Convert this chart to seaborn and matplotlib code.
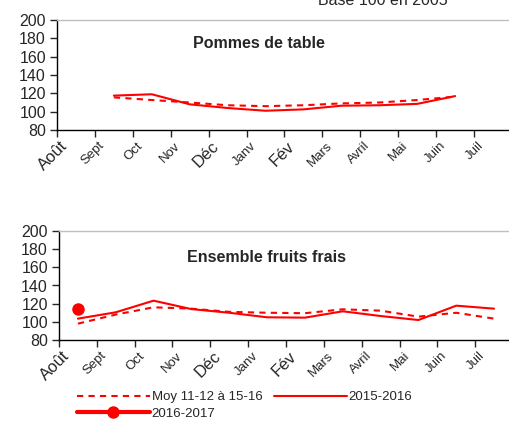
import matplotlib
matplotlib.use('Agg')
import matplotlib.pyplot as plt
import matplotlib.transforms as mtransforms
import numpy as np
import pandas as pd
import seaborn as sns

mois = ['Août', 'Sept', 'Oct', 'Nov', 'Déc', 'Janv', 'Fév', 'Mars', 'Avril', 'Mai', 'Juin', 'Juil']
nan = np.nan

# Pommes de table
pommes_moy = [nan, 115.6, 112.7, 110, 107, 106, 107, 109, 110, 112.7, 116.4, nan]
pommes_1516 = [nan, 117.5, 119, 108, 104, 101, 102.5, 106.5, 107, 108.5, 117, nan]

# Ensemble fruits frais
fruits_moy = [98, 108, 116, 114.5, 111, 110, 109.5, 113.8, 112.3, 105.7, 110, 103.5]
fruits_1516 = [103.5, 110.5, 123.3, 114, 110, 105, 104.6, 111.6, 106.4, 102, 117.8, 114.5]
fruits_1617 = [114, nan, nan, nan, nan, nan, nan, nan, nan, nan, nan, nan]

lab_moy = 'Moy 11-12 à 15-16'
lab_1516 = '2015-2016'
lab_1617 = '2016-2017'

sns.set_style('ticks')
plt.rcParams['font.family'] = ['Liberation Sans', 'DejaVu Sans']

RED = '#ff0000'
W, H = 509, 422
fig = plt.figure(figsize=(W / 100, H / 100), dpi=100)

ax1 = fig.add_axes([57 / W, 1 - 130 / H, 455 / W, 110 / H])
ax2 = fig.add_axes([59 / W, 1 - 340 / H, 454 / W, 109 / H])

x = np.arange(len(mois))


def draw(ax, series):
    for vals, lab, ls, lw, mk in series:
        df = pd.DataFrame({'x': x, 'y': vals}).dropna()
        sns.lineplot(data=df, x='x', y='y', ax=ax, color=RED, linestyle=ls,
                     linewidth=lw, marker=mk, markersize=9, markeredgewidth=0,
                     label=lab)


draw(ax1, [(pommes_moy, lab_moy, (0, (3, 2.5)), 1.5, None),
           (pommes_1516, lab_1516, '-', 1.5, None)])
draw(ax2, [(fruits_moy, lab_moy, (0, (3, 2.5)), 1.5, None),
           (fruits_1516, lab_1516, '-', 1.5, None),
           (fruits_1617, lab_1617, '-', 3, 'o')])

for ax in (ax1, ax2):
    ax.set_xlim(-0.5, 11.5)
    ax.set_ylim(80, 200)
    ax.set_yticks(range(80, 201, 20))
    ax.set_xlabel('')
    ax.set_ylabel('')
    ax.set_xticks(np.arange(-0.5, 12, 1))
    ax.set_xticklabels(mois + [''])
    ax.tick_params(axis='y', direction='out', length=5, width=1, labelsize=11.5, pad=3)
    ax.tick_params(axis='x', direction='out', length=5, width=1, pad=5)
    for sp in ('left', 'bottom'):
        ax.spines[sp].set_color('black')
        ax.spines[sp].set_linewidth(1)
    ax.spines['top'].set_visible(True)
    ax.spines['top'].set_color('#c0c0c0')
    ax.spines['top'].set_linewidth(1)
    ax.spines['right'].set_visible(False)
    shift = mtransforms.ScaledTranslation(8 / 100, 0, fig.dpi_scale_trans)
    for t in ax.get_xticklabels():
        t.set_rotation(45)
        t.set_ha('right')
        t.set_va('center')
        t.set_rotation_mode('anchor')
        t.set_fontsize(12 if t.get_text() in ('Août', 'Déc', 'Fév') else 9.5)
        t.set_transform(t.get_transform() + shift)
    if ax.get_legend() is not None:
        ax.get_legend().remove()

ax1.text(0.444, 0.782, 'Pommes de table', transform=ax1.transAxes,
         ha='center', va='center', fontsize=11.5, fontweight='bold')
ax2.text(0.456, 0.761, 'Ensemble fruits frais', transform=ax2.transAxes,
         ha='center', va='center', fontsize=11.5, fontweight='bold')

fig.text(383 / W, 1 - 5 / H, 'Base 100 en 2005', ha='center', va='baseline', fontsize=11.5)

handles, labels = ax2.get_legend_handles_labels()
order = [0, 2, 1]
fig.legend([handles[i] for i in order], [labels[i] for i in order],
           loc='upper left', bbox_to_anchor=(77 / W, 1 - 391 / H), ncol=2,
           frameon=False, borderpad=0, borderaxespad=0, fontsize=9.5,
           handlelength=5.5, handletextpad=0.15, columnspacing=0.9,
           labelspacing=0.35, numpoints=1)

fig.savefig('out.png', dpi=100)
